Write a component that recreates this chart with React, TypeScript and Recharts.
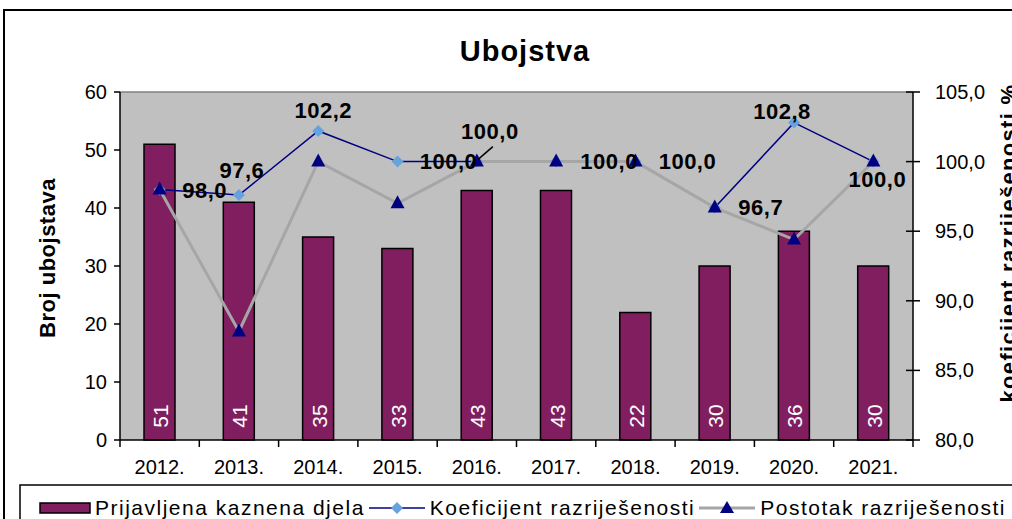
import React from 'react'
import { ComposedChart, Bar, Line, XAxis, YAxis, CartesianGrid, LabelList, ReferenceLine } from 'recharts'

const years = ['2012.', '2013.', '2014.', '2015.', '2016.', '2017.', '2018.', '2019.', '2020.', '2021.']
const prijavljenaDjela = [51, 41, 35, 33, 43, 43, 22, 30, 36, 30]
const koeficijent = [98.0, 97.6, 102.2, 100.0, 100.0, 100.0, 100.0, 96.7, 102.8, 100.0]
const postotak = [98.0, 87.8, 100.0, 97.0, 100.0, 100.0, 100.0, 96.7, 94.4, 100.0]
const countTicks = [0, 10, 20, 30, 40, 50, 60]
const percentTicks = [80, 85, 90, 95, 100, 105]

// where each koeficijent label sits relative to its point (dx, dy)
const labelNudge = [[45, 1], [3, -25], [5, -20], [51, 0], [13, -30], [53, 0], [52, 0], [46, 0], [-12, -11], [4, 18]]

const FONT = 'Arial, "Liberation Sans", sans-serif'
const PURPLE = '#801E60'
const NAVY = '#000080'
const SKY = '#65A3DE'
const GREY = '#A6A6A6'

const data = years.map((year, i) => ({
    year,
    prijavljena: prijavljenaDjela[i],
    koeficijent: koeficijent[i],
    postotak: postotak[i],
}))

const fmt = (v: number) => v.toFixed(1).replace('.', ',')

const diamondDot = (p: any) => {
    const { cx, cy, index } = p
    return (
        <polygon key={`dia-${index}`} points={`${cx},${cy - 6} ${cx + 6},${cy} ${cx},${cy + 6} ${cx - 6},${cy}`} fill={SKY} />
    )
}

const triangleDot = (p: any) => {
    const { cx, cy, index } = p
    return (
        <polygon key={`tri-${index}`} points={`${cx},${cy - 8} ${cx + 7},${cy + 5} ${cx - 7},${cy + 5}`} fill={NAVY} />
    )
}

function YearTick(props: any) {
    const { x, y, payload, index } = props
    const half = payload?.offset ?? 39.65
    return (
        <g>
            <line x1={x - half} x2={x - half} y1={y} y2={y + 7} stroke="#000" strokeWidth={1.5} />
            {index === years.length - 1 && (
                <line x1={x + half} x2={x + half} y1={y} y2={y + 7} stroke="#000" strokeWidth={1.5} />
            )}
            <text x={x} y={y + 34} textAnchor="middle" fontSize={20} fontFamily={FONT} fill="#000">
                {payload.value}
            </text>
        </g>
    )
}

function PercentTick(props: any) {
    const { x, y, payload } = props
    const axisX = x - 22
    return (
        <g>
            <line x1={axisX - 7} x2={axisX} y1={y} y2={y} stroke="#000" strokeWidth={1.5} />
            <text x={x} y={y} dy={7} textAnchor="start" fontSize={20} fontFamily={FONT} fill="#000">
                {fmt(payload.value)}
            </text>
        </g>
    )
}

function BarValue(props: any) {
    const { x, y, width, height, value } = props
    const cx = x + width / 2 + 1
    const cy = y + height - 24
    return (
        <text
            x={cx}
            y={cy}
            transform={`rotate(-90 ${cx} ${cy})`}
            textAnchor="middle"
            dominantBaseline="central"
            fontSize={21}
            fontFamily={FONT}
            fill="#fff"
        >
            {value}
        </text>
    )
}

function KoefLabel(props: any) {
    const { x, y, value, index } = props
    const [dx, dy] = labelNudge[index] ?? [0, -20]
    return (
        <g>
            {index === 4 && <line x1={x + 1} y1={y - 2} x2={x + 16} y2={y - 15} stroke="#000" strokeWidth={1.5} />}
            <text
                x={x + dx}
                y={y + dy}
                textAnchor="middle"
                dominantBaseline="central"
                fontSize={22}
                fontWeight="bold"
                letterSpacing={0.5}
                fontFamily={FONT}
                fill="#000"
            >
                {fmt(value)}
            </text>
        </g>
    )
}

function LegendRow() {
    return (
        <div
            style={{
                position: 'absolute',
                left: 39,
                top: 497,
                display: 'flex',
                alignItems: 'center',
                fontFamily: FONT,
                fontSize: 21,
                letterSpacing: 1.5,
                whiteSpace: 'nowrap',
                lineHeight: '22px',
            }}
        >
            <svg width={52} height={14}>
                <rect x={1} y={2} width={50} height={10} fill={PURPLE} stroke="#000" strokeWidth={1.5} />
            </svg>
            <span style={{ marginLeft: 4 }}>Prijavljena kaznena djela</span>
            <svg width={56} height={14} style={{ marginLeft: 4 }}>
                <line x1={0} x2={56} y1={7} y2={7} stroke={NAVY} strokeWidth={1.5} />
                <polygon points="28,1 34,7 28,13 22,7" fill={SKY} />
            </svg>
            <span style={{ marginLeft: 5 }}>Koeficijent razriješenosti</span>
            <svg width={56} height={14} style={{ marginLeft: 4 }}>
                <line x1={0} x2={56} y1={7} y2={7} stroke={GREY} strokeWidth={3} />
                <polygon points="28,0 35,12 21,12" fill={NAVY} />
            </svg>
            <span style={{ marginLeft: 5 }}>Postotak razriješenosti</span>
        </div>
    )
}

export default function App() {
    return (
        <div style={{ position: 'absolute', left: 0, top: 0, width: 1012, height: 519, overflow: 'hidden', background: '#fff' }}>
            <ComposedChart width={1012} height={519} data={data} margin={{ top: 92, right: 0, bottom: 0, left: 0 }}>
                <CartesianGrid yAxisId="left" fill="#C0C0C0" stroke="none" horizontal={false} vertical={false} />
                <XAxis
                    dataKey="year"
                    height={79}
                    interval={0}
                    tickLine={false}
                    tickSize={0}
                    tickMargin={0}
                    axisLine={{ stroke: '#000', strokeWidth: 1.5 }}
                    tick={<YearTick />}
                />
                <YAxis
                    yAxisId="left"
                    width={120}
                    domain={[0, 60]}
                    ticks={countTicks}
                    interval={0}
                    tickSize={6}
                    tickMargin={7}
                    axisLine={{ stroke: '#000', strokeWidth: 1.5 }}
                    tickLine={{ stroke: '#000', strokeWidth: 1.5 }}
                    tick={{ fontSize: 20, fill: '#000', fontFamily: FONT }}
                />
                <YAxis
                    yAxisId="right"
                    orientation="right"
                    width={99}
                    domain={[80, 105]}
                    ticks={percentTicks}
                    interval={0}
                    tickSize={7}
                    tickMargin={15}
                    axisLine={{ stroke: '#000', strokeWidth: 1.5 }}
                    tickLine={{ stroke: '#000', strokeWidth: 1.5 }}
                    tick={<PercentTick />}
                />
                <ReferenceLine yAxisId="left" y={60} stroke="#808080" strokeWidth={1.5} />
                <Bar yAxisId="left" dataKey="prijavljena" fill={PURPLE} stroke="#000" strokeWidth={1.5} barSize={31} isAnimationActive={false}>
                    <LabelList dataKey="prijavljena" content={<BarValue />} />
                </Bar>
                <Line
                    yAxisId="right"
                    dataKey="koeficijent"
                    stroke={NAVY}
                    strokeWidth={1.5}
                    dot={diamondDot}
                    activeDot={false}
                    isAnimationActive={false}
                />
                <Line
                    yAxisId="right"
                    dataKey="postotak"
                    stroke={GREY}
                    strokeWidth={3}
                    dot={triangleDot}
                    activeDot={false}
                    isAnimationActive={false}
                />
                <Line
                    yAxisId="right"
                    dataKey="koeficijent"
                    stroke="none"
                    dot={false}
                    activeDot={false}
                    legendType="none"
                    isAnimationActive={false}
                >
                    <LabelList dataKey="koeficijent" content={<KoefLabel />} />
                </Line>
            </ComposedChart>

            <svg width={1012} height={519} style={{ position: 'absolute', left: 0, top: 0, pointerEvents: 'none' }}>
                <rect x={4} y={10} width={1100} height={600} fill="none" stroke="#000" strokeWidth={2} />
                <rect x={20} y={485} width={1100} height={100} fill="none" stroke="#000" strokeWidth={1.5} />
                <text x={525} y={61} textAnchor="middle" fontSize={29} fontWeight="bold" letterSpacing={1} fontFamily={FONT}>
                    Ubojstva
                </text>
                <text
                    x={55}
                    y={258}
                    transform="rotate(-90 55 258)"
                    textAnchor="middle"
                    fontSize={22}
                    fontWeight="bold"
                    letterSpacing={0.5}
                    fontFamily={FONT}
                >
                    Broj ubojstava
                </text>
                <text
                    x={1016}
                    y={243}
                    transform="rotate(-90 1016 243)"
                    textAnchor="middle"
                    fontSize={22}
                    fontWeight="bold"
                    letterSpacing={1.3}
                    fontFamily={FONT}
                >
                    koeficijent razriješenosti %
                </text>
            </svg>
            <LegendRow />
        </div>
    )
}
